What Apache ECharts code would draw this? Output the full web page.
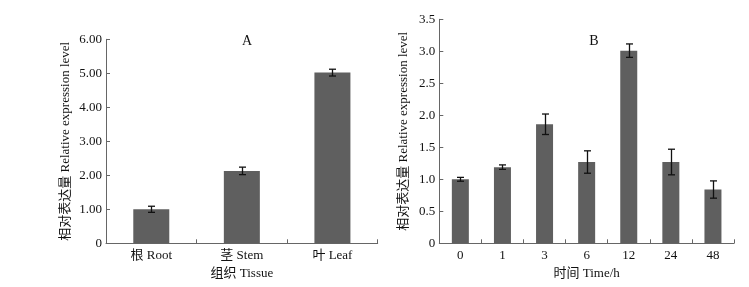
<!DOCTYPE html>
<html>
<head>
<meta charset="utf-8">
<script src="https://cdn.jsdelivr.net/npm/echarts@6/dist/echarts.min.js"></script>
<style>html,body{margin:0;padding:0;background:#fff;}#c{width:749px;height:287px;}</style>
</head>
<body>
<div id="c"></div>
<script>
var catsA = ['根 Root', '茎 Stem', '叶 Leaf'];
var valsA = [1.00, 2.13, 5.02];
var errA = [0.09, 0.11, 0.10];
var yTicksA = { min: 0, max: 6, interval: 1 };

var catsB = ['0', '1', '3', '6', '12', '24', '48'];
var valsB = [1.00, 1.19, 1.86, 1.27, 3.01, 1.27, 0.84];
var errB = [0.03, 0.035, 0.16, 0.175, 0.105, 0.20, 0.135];
var yTicksB = { min: 0, max: 3.5, interval: 0.5 };

var FONT = '"Liberation Serif", "Noto Sans CJK SC", serif';
var BAR = '#5f5f5f';
var AXIS = '#666666';

function errSeries(xi, yi, vals, errs, cap) {
  return {
    type: 'custom',
    xAxisIndex: xi, yAxisIndex: yi,
    data: vals.map(function (v, i) { return [i, v - errs[i], v + errs[i]]; }),
    renderItem: function (params, api) {
      var lo = api.coord([api.value(0), api.value(1)]);
      var hi = api.coord([api.value(0), api.value(2)]);
      var x = Math.round(lo[0]) + 0.5;
      var s = { stroke: '#111', lineWidth: 1.3 };
      return {
        type: 'group',
        children: [
          { type: 'line', shape: { x1: x, y1: hi[1], x2: x, y2: lo[1] }, style: s },
          { type: 'line', shape: { x1: x - cap, y1: hi[1], x2: x + cap, y2: hi[1] }, style: s },
          { type: 'line', shape: { x1: x - cap, y1: lo[1], x2: x + cap, y2: lo[1] }, style: s }
        ]
      };
    },
    z: 10
  };
}

function yAxis(gi, t, dec, nameGap) {
  return {
    type: 'value', gridIndex: gi, min: t.min, max: t.max, interval: t.interval,
    name: '相对表达量 Relative expression level',
    nameLocation: 'middle', nameGap: nameGap,
    nameTextStyle: { fontFamily: FONT, fontSize: 13, color: '#111' },
    axisLine: { show: true, lineStyle: { color: AXIS, width: 1 } },
    axisTick: { show: true, inside: true, length: 4, lineStyle: { color: AXIS } },
    axisLabel: {
      fontFamily: FONT, fontSize: 13, color: '#111', margin: 4,
      formatter: function (v) { return v === 0 ? '0' : v.toFixed(dec); }
    },
    splitLine: { show: false }
  };
}

function xAxis(gi, cats, name) {
  return {
    type: 'category', gridIndex: gi, data: cats,
    name: name, nameLocation: 'middle', nameGap: 17,
    nameTextStyle: { fontFamily: FONT, fontSize: 13, color: '#111' },
    axisLine: { show: true, lineStyle: { color: AXIS, width: 1 } },
    axisTick: { show: true, inside: true, length: 4, alignWithLabel: false, lineStyle: { color: AXIS } },
    axisLabel: { fontFamily: FONT, fontSize: 13, color: '#111', margin: 6 }
  };
}

var chart = echarts.init(document.getElementById('c'), null, { renderer: 'canvas' });
chart.setOption({
  backgroundColor: '#ffffff',
  animation: false,
  title: [
    { text: 'A', left: 242, top: 29, textAlign: 'center', textStyle: { fontFamily: FONT, fontSize: 14, fontWeight: 'normal', color: '#111' } },
    { text: 'B', left: 589, top: 29, textAlign: 'center', textStyle: { fontFamily: FONT, fontSize: 14, fontWeight: 'normal', color: '#111' } }
  ],
  grid: [
    { left: 106, top: 39.3, width: 271.7, height: 204 },
    { left: 439.3, top: 19.3, width: 294.7, height: 224 }
  ],
  xAxis: [xAxis(0, catsA, '组织 Tissue'), xAxis(1, catsB, '时间 Time/h')],
  yAxis: [yAxis(0, yTicksA, 2, 34), yAxis(1, yTicksB, 1, 29)],
  series: [
    { type: 'bar', xAxisIndex: 0, yAxisIndex: 0, data: valsA, barWidth: 36, itemStyle: { color: BAR } },
    errSeries(0, 0, valsA, errA, 3.5),
    { type: 'bar', xAxisIndex: 1, yAxisIndex: 1, data: valsB, barWidth: 17, itemStyle: { color: BAR } },
    errSeries(1, 1, valsB, errB, 3.5)
  ]
});
</script>
</body>
</html>
